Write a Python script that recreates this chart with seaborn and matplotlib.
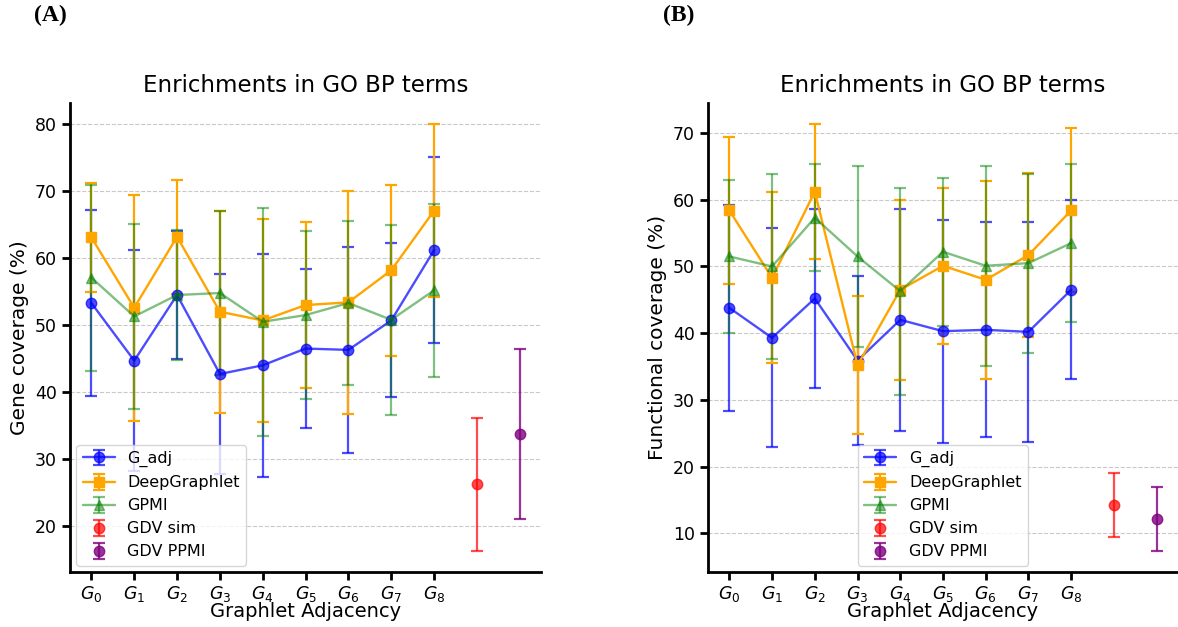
import numpy as np
import seaborn as sns
import matplotlib.pyplot as plt

# valores: médias e desvios (%)
graphlets = [f"$G_{i}$" for i in range(9)]
methods = ["G_adj", "DeepGraphlet", "GPMI"]

# (A) Gene coverage
adj_a_mean = [53.3, 44.7, 54.5, 42.7, 44.0, 46.5, 46.3, 50.7, 61.2]
adj_a_err = [13.9, 16.5, 9.6, 14.9, 16.7, 11.9, 15.4, 11.5, 13.9]
deep_a_mean = [63.1, 52.6, 63.2, 52.0, 50.7, 53.0, 53.4, 58.2, 67.1]
deep_a_err = [8.1, 16.9, 8.5, 15.1, 15.1, 12.4, 16.7, 12.8, 12.9]
gpmi_a_mean = [57.1, 51.3, 54.5, 54.8, 50.5, 51.5, 53.3, 50.8, 55.2]
gpmi_a_err = [13.9, 13.8, 9.7, 12.3, 17.0, 12.5, 12.2, 14.2, 12.9]
gdv_sim_a = (26.2, 9.9)
gdv_ppmi_a = (33.8, 12.7)

# (B) Functional coverage
adj_b_mean = [43.8, 39.3, 45.2, 35.9, 42.0, 40.3, 40.5, 40.2, 46.5]
adj_b_err = [15.4, 16.4, 13.4, 12.7, 16.6, 16.7, 16.1, 16.5, 13.4]
deep_b_mean = [58.4, 48.3, 61.2, 35.2, 46.5, 50.1, 48.0, 51.7, 58.4]
deep_b_err = [11.0, 12.8, 10.1, 10.3, 13.5, 11.7, 14.8, 12.3, 12.3]
gpmi_b_mean = [51.5, 50.0, 57.3, 51.5, 46.3, 52.2, 50.1, 50.5, 53.5]
gpmi_b_err = [11.5, 13.8, 8.0, 13.5, 15.5, 11.1, 15.0, 13.4, 11.8]
gdv_sim_b = (14.2, 4.8)
gdv_ppmi_b = (12.2, 4.8)

sns.set_theme(style="ticks")
plt.rcParams['font.family'] = ['DejaVu Sans']
plt.rcParams['mathtext.fontset'] = 'dejavusans'
for k in ['text.color', 'axes.labelcolor', 'xtick.color', 'ytick.color']:
    plt.rcParams[k] = 'black'


def draw_panel(ax, adj, deep, gpmi, sim, ppmi, ylabel, legend_loc):
    x = np.arange(len(graphlets))
    kw = dict(capsize=4.5, markersize=7.5, linewidth=1.7, elinewidth=1.6, capthick=1.6)
    ax.errorbar(x, adj[0], yerr=adj[1], fmt='-o', color='blue', alpha=0.7, label=methods[0], **kw)
    ax.errorbar(x, deep[0], yerr=deep[1], fmt='-s', color='orange', alpha=1.0, label=methods[1], **kw)
    ax.errorbar(x, gpmi[0], yerr=gpmi[1], fmt='-^', color='green', alpha=0.5, label=methods[2], **kw)
    ax.errorbar([len(graphlets)], [sim[0]], yerr=[sim[1]], fmt='o', color='red', alpha=0.7,
                label="GDV sim", **kw)
    ax.errorbar([len(graphlets) + 1], [ppmi[0]], yerr=[ppmi[1]], fmt='o', color='purple', alpha=0.8,
                label="GDV PPMI", **kw)

    ax.set_xticks(x)
    ax.set_xticklabels(graphlets, fontsize=12.5)
    ax.tick_params(axis='y', labelsize=12.5)
    ax.tick_params(axis='x', pad=2.5)
    ax.tick_params(width=2, length=6, color='black')
    ax.set_xlabel("Graphlet Adjacency", fontsize=14, labelpad=-1)
    ax.set_ylabel(ylabel, fontsize=14.5, labelpad=4)
    ax.set_title("Enrichments in GO BP terms", fontsize=16.5, pad=8)
    ax.yaxis.grid(True, linestyle='--', color='#bbbbbb', alpha=0.8, linewidth=0.8)
    for s in ['left', 'bottom']:
        ax.spines[s].set_linewidth(2)
        ax.spines[s].set_color('black')
    sns.despine(ax=ax)
    ax.legend(loc=legend_loc, fontsize=11.5, framealpha=0.8, borderaxespad=0.4)


fig = plt.figure(figsize=(11.78, 6.27), dpi=100)
ax1 = fig.add_axes([0.0594, 0.0877, 0.40, 0.748])
ax2 = fig.add_axes([0.601, 0.0877, 0.399, 0.748])

draw_panel(ax1, (adj_a_mean, adj_a_err), (deep_a_mean, deep_a_err), (gpmi_a_mean, gpmi_a_err),
           gdv_sim_a, gdv_ppmi_a, "Gene coverage (%)", "lower left")
draw_panel(ax2, (adj_b_mean, adj_b_err), (deep_b_mean, deep_b_err), (gpmi_b_mean, gpmi_b_err),
           gdv_sim_b, gdv_ppmi_b, "Functional coverage (%)", "lower center")

fig.text(0.029, 0.993, "(A)", fontsize=17, fontweight='bold', family='Liberation Serif', va='top')
fig.text(0.563, 0.993, "(B)", fontsize=17, fontweight='bold', family='Liberation Serif', va='top')

plt.savefig("out.png", dpi=100)
